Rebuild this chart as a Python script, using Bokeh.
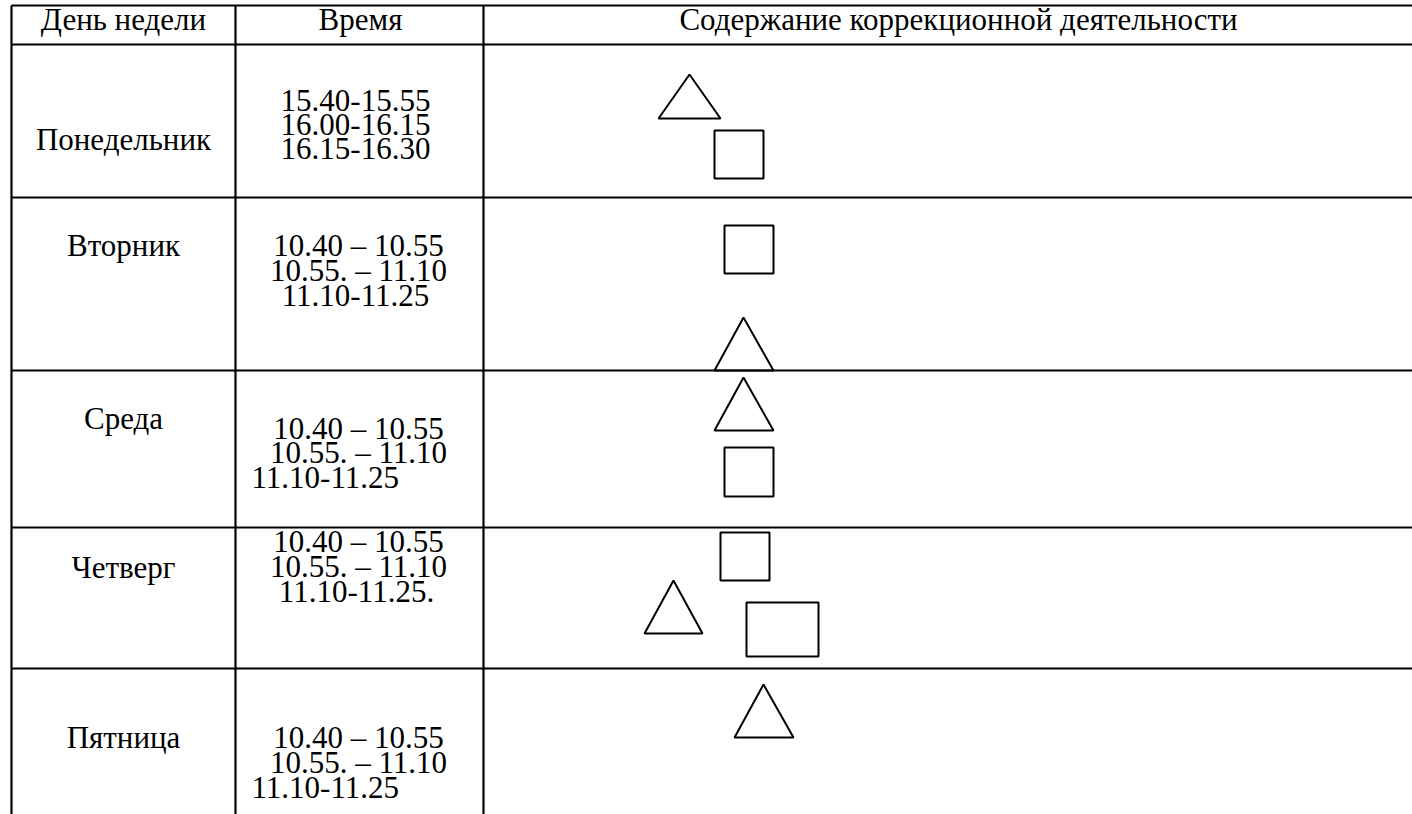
from bokeh.plotting import figure
from bokeh.models import Range1d
from bokeh.embed import file_html
from bokeh.resources import INLINE
from bokeh.core.properties import value

FONT = "Liberation Serif"
FS = "31px"

# ---- table data ----
header = ["День недели", "Время", "Содержание коррекционной деятельности"]
header_x = [123, 360, 958]
header_y = [19, 19, 19]

days = ["Понедельник", "Вторник", "Среда", "Четверг", "Пятница"]
day_x = [123, 123, 123, 123, 123]
day_y = [139, 245, 418, 567, 737]

times_mon = ["15.40-15.55", "16.00-16.15", "16.15-16.30"]
times_tue = ["10.40 – 10.55", "10.55. – 11.10", "11.10-11.25"]
times_wed = ["10.40 – 10.55", "10.55. – 11.10", "11.10-11.25"]
times_thu = ["10.40 – 10.55", "10.55. – 11.10", "11.10-11.25."]
times_fri = ["10.40 – 10.55", "10.55. – 11.10", "11.10-11.25"]
times = [times_mon, times_tue, times_wed, times_thu, times_fri]
times_y = [[100, 124, 148], [245, 270, 295], [428, 452, 477], [541, 566, 591], [737, 762, 787]]
times_x = [[355, 355, 355], [358, 358, 355], [358, 358, 251], [358, 358, 356], [358, 358, 251]]
times_align = [["center"] * 3, ["center"] * 3, ["center", "center", "left"],
               ["center"] * 3, ["center", "center", "left"]]

# table rules
col_lines = [11, 235, 483]
row_lines = [5, 44, 197, 370, 527, 668]

# shapes in the "content" column
tri_apex_x = [689, 743, 743, 673, 763]
tri_apex_y = [74, 317, 377, 580, 684]
tri_left = [658, 714, 714, 644, 734]
tri_right = [720, 773, 773, 702, 793]
tri_base = [118, 370, 430, 633, 737]

rect_left = [714, 724, 724, 720, 746]
rect_right = [763, 773, 773, 769, 818]
rect_top = [130, 225, 447, 532, 602]
rect_bottom = [178, 273, 496, 580, 656]

W, H = 1412, 814
p = figure(width=W, height=H, output_backend="svg", toolbar_location=None,
           x_range=Range1d(0, W), y_range=Range1d(H, 0),
           min_border=0, border_fill_color="white", background_fill_color="white")
p.axis.visible = False
p.grid.visible = False
p.outline_line_color = None

# table rules
p.segment(x0=[col_lines[0]] * len(row_lines), x1=[W] * len(row_lines),
          y0=row_lines, y1=row_lines, line_color="black", line_width=2.2)
p.segment(x0=col_lines, x1=col_lines, y0=[row_lines[0]] * len(col_lines),
          y1=[H] * len(col_lines), line_color="black", line_width=2.2)

# header
p.text(x=header_x, y=header_y, text=header, text_font=value(FONT),
       text_font_size=FS, text_align="center", text_baseline="middle",
       text_color="black")

# days
p.text(x=day_x, y=day_y, text=days, text_font=value(FONT),
       text_font_size=FS, text_align="center", text_baseline="middle",
       text_color="black")

# times
for align in ("center", "left"):
    tx, ty, tt = [], [], []
    for xs, ys, ts, al in zip(times_x, times_y, times, times_align):
        for x, y, t, a in zip(xs, ys, ts, al):
            if a == align:
                tx.append(x)
                ty.append(y)
                tt.append(t)
    p.text(x=tx, y=ty, text=tt, text_font=value(FONT), text_font_size=FS,
           text_align=align, text_baseline="middle", text_color="black")

# triangles
xs = [[l, a, r] for l, a, r in zip(tri_left, tri_apex_x, tri_right)]
ys = [[b, t, b] for b, t in zip(tri_base, tri_apex_y)]
p.patches(xs, ys, fill_color=None, line_color="black", line_width=2)

# squares / rectangle
p.quad(left=rect_left, right=rect_right, top=rect_top, bottom=rect_bottom,
       fill_color=None, line_color="black", line_width=2)

open("out.html", "w").write(file_html(p, INLINE))
